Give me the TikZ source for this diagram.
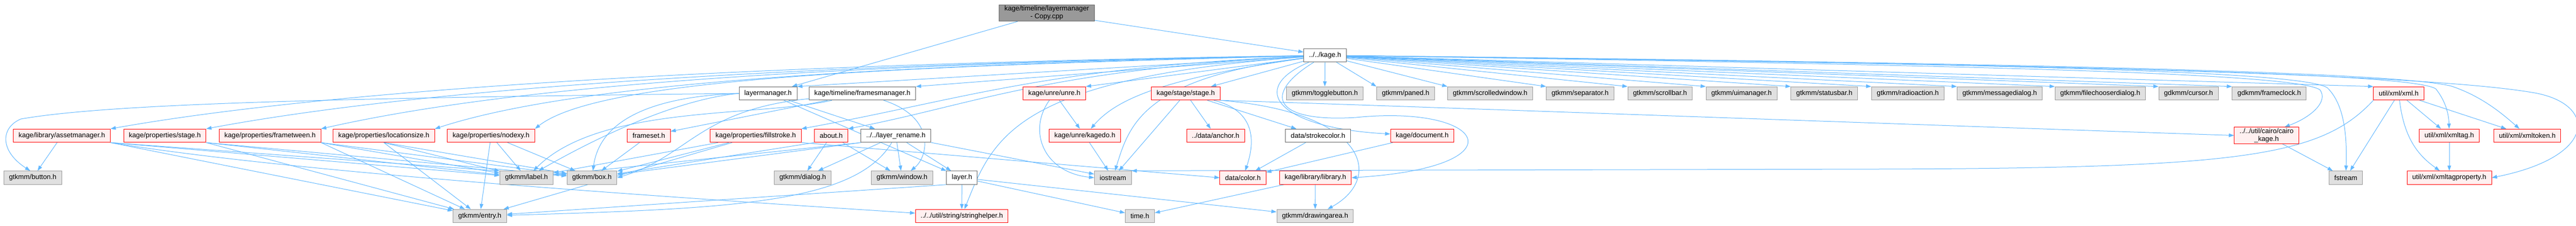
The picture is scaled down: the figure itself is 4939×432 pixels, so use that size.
\documentclass[tikz,border=0pt]{standalone}
\usepackage{fontspec}
\setmainfont{Liberation Sans}
\usepackage{xcolor}
\usepackage{tikz}
\usetikzlibrary{arrows.meta}
\definecolor{edgeblue}{HTML}{63B8FF}
\definecolor{rootfill}{HTML}{999999}
\definecolor{darkedge}{HTML}{666666}
\definecolor{extfill}{HTML}{E0E0E0}
\definecolor{extedge}{HTML}{999999}
\definecolor{redfill}{HTML}{FFF0F0}
\pgfdeclarelayer{edges}
\pgfsetlayers{edges,main}
\tikzset{ base_node/.style = {rectangle, line width=1pt, inner xsep=10pt, inner ysep=2pt, minimum height=25.5pt, align=center, font=\fontsize{13.2}{15}\selectfont} }
\tikzset{ root_node/.style = {base_node, draw=darkedge, fill=rootfill} }
\tikzset{ file_node/.style = {base_node, draw=darkedge, fill=white} }
\tikzset{ red_node/.style = {base_node, draw=red, fill=redfill} }
\tikzset{ ext_node/.style = {base_node, draw=extedge, fill=extfill} }
\tikzset{ every path/.style = {line width=1pt}, >={Triangle[length=10pt,width=7pt]} }

\begin{document}
\begin{tikzpicture}[x=1pt, y=-1pt]
            \useasboundingbox (0,0) rectangle (4939,432);
            \node[root_node] (root) at (2007, 25) {kage/timeline/layermanager\\- Copy.cpp};
            \node[file_node] (kage_h) at (2540.6, 106) {../../kage.h};
            % row 2
            \node[file_node] (layermanager) at (1472.5, 179) {layermanager.h};
            \node[file_node] (framesmanager) at (1653.5, 179) {kage/timeline/framesmanager.h};
            \node[red_node] (unre) at (2021.6, 179) {kage/unre/unre.h};
            \node[red_node] (kstage) at (2273.4, 179) {kage/stage/stage.h};
            \node[ext_node] (togglebutton) at (2540, 179) {gtkmm/togglebutton.h};
            \node[ext_node] (paned) at (2695, 179) {gtkmm/paned.h};
            \node[ext_node] (scrolledwindow) at (2857, 179) {gtkmm/scrolledwindow.h};
            \node[ext_node] (separator) at (3029.5, 179) {gtkmm/separator.h};
            \node[ext_node] (scrollbar) at (3182.7, 179) {gtkmm/scrollbar.h};
            \node[ext_node] (uimanager) at (3339, 179) {gtkmm/uimanager.h};
            \node[ext_node] (statusbar) at (3497.8, 179) {gtkmm/statusbar.h};
            \node[ext_node] (radioaction) at (3657.8, 179) {gtkmm/radioaction.h};
            \node[ext_node] (messagedialog) at (3834, 179) {gtkmm/messagedialog.h};
            \node[ext_node] (filechooser) at (4026.8, 179) {gtkmm/filechooserdialog.h};
            \node[ext_node] (cursor) at (4196, 179) {gdkmm/cursor.h};
            \node[ext_node] (frameclock) at (4350.8, 179) {gdkmm/frameclock.h};
            \node[red_node] (xml) at (4599, 179) {util/xml/xml.h};
            % row 3
            \node[red_node] (assetmanager) at (118.6, 260) {kage/library/assetmanager.h};
            \node[red_node] (pstage) at (316, 260) {kage/properties/stage.h};
            \node[red_node] (frametween) at (517.8, 260) {kage/properties/frametween.h};
            \node[red_node] (locationsize) at (736, 260) {kage/properties/locationsize.h};
            \node[red_node] (nodexy) at (941.5, 260) {kage/properties/nodexy.h};
            \node[red_node] (frameset) at (1244, 260) {frameset.h};
            \node[red_node] (fillstroke) at (1449, 260) {kage/properties/fillstroke.h};
            \node[red_node] (about) at (1593.6, 260) {about.h};
            \node[file_node] (layer_rename) at (1717.6, 260) {../../layer\_rename.h};
            \node[red_node] (kagedo) at (2080, 260) {kage/unre/kagedo.h};
            \node[red_node] (anchor) at (2330.6, 260) {../data/anchor.h};
            \node[file_node] (strokecolor) at (2527, 260) {data/strokecolor.h};
            \node[red_node] (document) at (2726.7, 260) {kage/document.h};
            \node[red_node] (cairo_kage) at (4345.6, 259.5) {../../util/cairo/cairo\\\_kage.h};
            \node[red_node] (xmltag) at (4696, 260) {util/xml/xmltag.h};
            \node[red_node] (xmltoken) at (4845.6, 260) {util/xml/xmltoken.h};
            % row 4
            \node[ext_node] (button) at (62.8, 340.5) {gtkmm/button.h};
            \node[ext_node] (label) at (1009.5, 340.5) {gtkmm/label.h};
            \node[ext_node] (box) at (1135, 340.5) {gtkmm/box.h};
            \node[ext_node] (dialog) at (1539, 340.5) {gtkmm/dialog.h};
            \node[ext_node] (window) at (1729.5, 340.5) {gtkmm/window.h};
            \node[file_node] (layer) at (1844.4, 340.5) {layer.h};
            \node[ext_node] (iostream) at (2133.7, 340.5) {iostream};
            \node[red_node] (color) at (2383, 340.5) {data/color.h};
            \node[red_node] (library) at (2522, 340.5) {kage/library/library.h};
            \node[ext_node] (fstream) at (4497.6, 340.5) {fstream};
            \node[red_node] (xmltagproperty) at (4696, 340.5) {util/xml/xmltagproperty.h};
            % row 5
            \node[ext_node] (entry) at (920, 414) {gtkmm/entry.h};
            \node[red_node] (stringhelper) at (1844, 414) {../../util/string/stringhelper.h};
            \node[ext_node] (time) at (2185.5, 414) {time.h};
            \node[ext_node] (drawingarea) at (2521.5, 414) {gtkmm/drawingarea.h};

            \begin{pgfonlayer}{edges}
            \begin{scope}[draw=edgeblue]
            % from the cpp file
            \draw[->] (root) to (layermanager);
            \draw[->] (root) to (kage_h);
            % kage.h, row 2
            \draw[->] (kage_h) to (layermanager.north east);
            \draw[->] (kage_h) to (framesmanager.north east);
            \draw[->] (kage_h) to (unre.north east);
            \draw[->] (kage_h) to (kstage);
            \draw[->] (kage_h) to (togglebutton);
            \draw[->] (kage_h) to (paned.north west);
            \draw[->] (kage_h) to (scrolledwindow.north west);
            \draw[->] (kage_h) to (separator.north west);
            \draw[->] (kage_h) to (scrollbar.north west);
            \draw[->] (kage_h) to (uimanager.north west);
            \draw[->] (kage_h) to (statusbar.north west);
            \draw[->] (kage_h) to (radioaction.north west);
            \draw[->] (kage_h) to (messagedialog.north west);
            \draw[->] (kage_h) to (filechooser.north west);
            \draw[->] (kage_h) to (cursor.north west);
            \draw[->] (kage_h) to (frameclock.north west);
            \draw[->] (kage_h) to (xml.north west);
            % kage.h, left side
            \draw[->] (kage_h) .. controls (1600,120) and (700,160) .. (assetmanager.north east);
            \draw[->] (kage_h) .. controls (1600,122) and (850,162) .. (pstage.north east);
            \draw[->] (kage_h) .. controls (1600,124) and (1000,160) .. (frametween.north east);
            \draw[->] (kage_h) .. controls (1650,126) and (1100,160) .. (locationsize.north east);
            \draw[->] (kage_h) .. controls (1700,128) and (1150,150) .. (nodexy.north east);
            \draw[->] (kage_h) .. controls (2000,130) and (1850,190) .. (fillstroke.north east);
            \draw[->] (kage_h) .. controls (2000,135) and (1870,200) .. (about.north east);
            \draw[->] (kage_h) .. controls (2230,150) and (2140,190) .. (kagedo);
            \draw[->] (kage_h) .. controls (2190,150) and (2165,240) .. (iostream);
            \draw[->] (kage_h) .. controls (1950,150) and (1905,260) .. (stringhelper);
            \draw[->] (kage_h) .. controls (2390,170) and (2450,245) .. (document);
            \draw[->] (kage_h) .. controls (2420,180) and (2440,235) .. (2600,225) .. controls (2850,200) and (2920,320) .. (library.east);
            % kage.h, right side
            \draw[->] (kage_h) .. controls (3800,125) and (4400,140) .. (4448,172) .. controls (4465,195) and (4430,225) .. (cairo_kage.25);
            \draw[->] (kage_h) .. controls (3800,122) and (4410,135) .. (4462,168) .. controls (4495,200) and (4500,260) .. (fstream);
            \draw[->] (kage_h) .. controls (4000,125) and (4620,140) .. (4670,170) .. controls (4690,195) and (4695,220) .. (xmltag);
            \draw[->] (kage_h) .. controls (4000,122) and (4600,140) .. (4700,165) .. controls (4760,185) and (4800,220) .. (xmltoken);
            \draw[->] (kage_h) .. controls (4200,125) and (4700,150) .. (4860,178) .. controls (4980,200) and (4980,300) .. (xmltagproperty.east);
            % layermanager.h and framesmanager.h
            \draw[->] (layermanager.west) .. controls (600,188) and (200,200) .. (40,228) .. controls (0,245) and (0,290) .. (button.110);
            \draw[->] (layermanager.west) .. controls (1300,190) and (1150,260) .. (label);
            \draw[->] (layermanager.west) .. controls (1250,185) and (1150,230) .. (box);
            \draw[->] (layermanager) to (layer);
            \draw[->] (layermanager) to (layer_rename);
            \draw[->] (framesmanager) to (frameset);
            \draw[->] (framesmanager) .. controls (1450,225) and (1150,200) .. (label);
            \draw[->] (framesmanager) .. controls (1340,210) and (1320,300) .. (box.east);
            \draw[->] (framesmanager) .. controls (1795,225) and (1780,300) .. (window);
            % properties and library
            \draw[->] (assetmanager) to (button);
            \draw[->] (assetmanager.south east) to (label);
            \draw[->] (assetmanager.south east) to (box);
            \draw[->] (assetmanager.south east) to (entry);
            \draw[->] (assetmanager.south east) .. controls (500,320) and (1000,360) .. (stringhelper);
            \draw[->] (pstage.south east) to (label);
            \draw[->] (pstage.south east) to (box);
            \draw[->] (pstage.south east) to (entry);
            \draw[->] (frametween.south east) to (label);
            \draw[->] (frametween.south east) to (box);
            \draw[->] (frametween.south east) to (entry);
            \draw[->] (locationsize.south) to (label);
            \draw[->] (locationsize.south) to (box);
            \draw[->] (locationsize.south) to (entry);
            \draw[->] (nodexy) to (label);
            \draw[->] (nodexy) to (box);
            \draw[->] (nodexy) to (entry);
            \draw[->] (frameset) to (box);
            \draw[->] (fillstroke) to (label);
            \draw[->] (fillstroke) to (box);
            \draw[->] (fillstroke) to (entry);
            \draw[->] (fillstroke.south east) to (color.west);
            \draw[->] (about) to (dialog);
            \draw[->] (about) to (window);
            \draw[->] (about.south west) to (box);
            \draw[->] (layer_rename) to (dialog);
            \draw[->] (layer_rename) to (window);
            \draw[->] (layer_rename) to (layer);
            \draw[->] (layer_rename.south west) to (label);
            \draw[->] (layer_rename.south west) to (box);
            \draw[->] (layer_rename) to (iostream);
            \draw[->] (layer_rename) .. controls (1640,390) and (1400,400) .. (entry);
            % unre, stage and data
            \draw[->] (unre) to (kagedo);
            \draw[->] (unre) .. controls (1970,250) and (2000,330) .. (iostream.west);
            \draw[->] (kagedo) to (iostream);
            \draw[->] (kstage) to (iostream);
            \draw[->] (kstage) to (anchor);
            \draw[->] (kstage) to (strokecolor);
            \draw[->] (kstage) .. controls (2420,215) and (2400,290) .. (color);
            \draw[->] (kstage.south east) .. controls (2600,200) and (3700,240) .. (cairo_kage.west);
            \draw[->] (kstage.south east) .. controls (2620,215) and (2655,340) .. (drawingarea);
            \draw[->] (strokecolor) to (color);
            \draw[->] (document) to (color);
            \draw[->] (library) to (drawingarea);
            \draw[->] (library) to (time);
            \draw[->] (layer) to (stringhelper);
            \draw[->] (layer) to (time);
            \draw[->] (layer) to (drawingarea);
            \draw[->] (layer.south west) to (entry);
            % xml
            \draw[->] (xml.south west) .. controls (4450,300) and (4300,322) .. (3600,324) -- (iostream.north east);
            \draw[->] (xml) to (fstream);
            \draw[->] (xml) to (xmltag);
            \draw[->] (xml) to (xmltoken);
            \draw[->] (xml) .. controls (4610,270) and (4640,300) .. (xmltagproperty);
            \draw[->] (xmltag) to (xmltagproperty);
            \draw[->] (cairo_kage) to (fstream);
            \end{scope}
            \end{pgfonlayer}
        \end{tikzpicture}
\end{document}
